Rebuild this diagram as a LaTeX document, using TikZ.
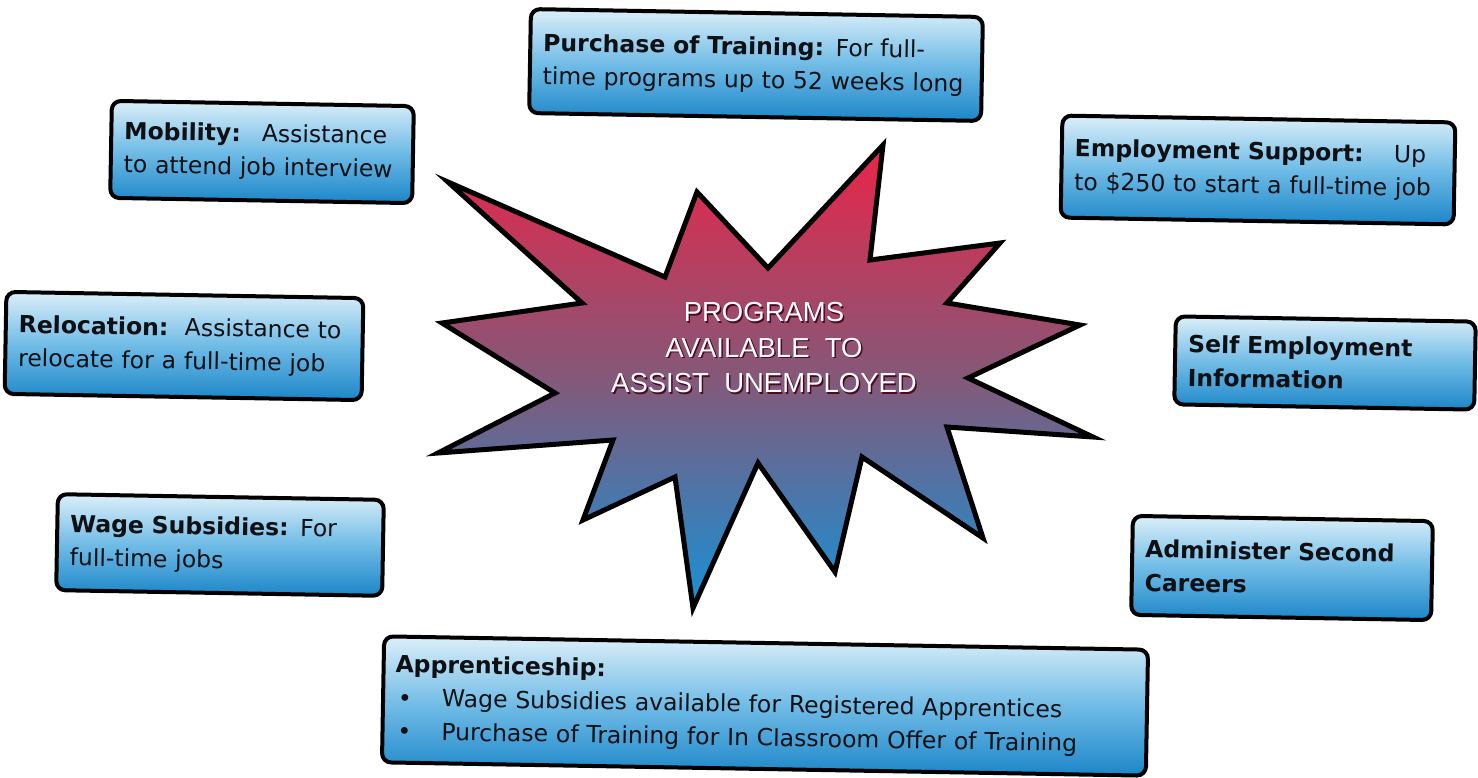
\documentclass[tikz,border=0pt]{standalone}
\usepackage{fontspec}
\setmainfont{DejaVu Sans}
\newfontfamily\starfont{Liberation Sans}
\definecolor{boxtop}{HTML}{DCEFF9}
\definecolor{boxmid}{HTML}{6FBBE6}
\definecolor{boxbot}{HTML}{1C86C8}
\definecolor{startop}{HTML}{EA2448}
\definecolor{starmid}{HTML}{855878}
\definecolor{starbot}{HTML}{1592D8}
\definecolor{textdark}{HTML}{0E1014}
\definecolor{shadowred}{HTML}{4A0C1C}
\begin{document}
\begin{tikzpicture}[x=1pt,y=-1pt,
  prog/.style={draw=black, line width=4pt, rounded corners=9pt,
    top color=boxtop, bottom color=boxbot, middle color=boxmid,
    rotate=-1, inner xsep=13pt, inner ysep=0pt, align=left,
    font=\fontsize{23.5}{33.5}\selectfont, text=textdark},
  starbody/.style={draw=black, line width=5pt, line join=miter,
    top color=startop, bottom color=starbot, middle color=starmid},
  startext/.style={align=center, font=\starfont\fontsize{27.5}{35.5}\selectfont}
]
\useasboundingbox[fill=white] (0,0) rectangle (1478,777);

% central star
\draw[starbody] (448,182) -- (665,277) -- (697,192) -- (768,268) -- (883,145)
  -- (870,260) -- (1000,243) -- (947,303) -- (1080,325) -- (968,378)
  -- (1093,437) -- (947,427) -- (983,538) -- (862,457) -- (835,572)
  -- (758,463) -- (693,608) -- (675,477) -- (583,520) -- (613,440)
  -- (438,453) -- (555,393) -- (442,323) -- (582,303) -- cycle;
\node[startext, text=shadowred] (centershadow) at (765.5,349.5)
  {PROGRAMS\\AVAILABLE\ \ TO\\ASSIST\ \ UNEMPLOYED};
\node[startext, text=white] (center) at (764,348)
  {PROGRAMS\\AVAILABLE\ \ TO\\ASSIST\ \ UNEMPLOYED};

% program boxes
\node[prog, minimum width=452pt, minimum height=104pt, text width=426pt] (training) at (756,65)
  {\textbf{Purchase of Training:} For full-\\time programs up to 52 weeks long};
\node[prog, minimum width=302pt, minimum height=97pt, text width=276pt] (mobility) at (262,152)
  {\textbf{Mobility:}\hspace{0.4em} Assistance\\to attend job interview};
\node[prog, minimum width=393pt, minimum height=102pt, text width=367pt] (employment) at (1258,170)
  {\textbf{Employment Support:}\hspace{1.3em}Up\\to \$250 to start a full-time job};
\node[prog, minimum width=357pt, minimum height=102pt, text width=331pt, inner xsep=13pt] (relocation) at (184,346)
  {\textbf{Relocation:}\hspace{0.2em} Assistance to\\relocate for a full-time job};
\node[prog, minimum width=300pt, minimum height=88pt, text width=274pt] (self) at (1325,363)
  {\textbf{Self Employment}\\\textbf{Information}};
\node[prog, minimum width=326pt, minimum height=96pt, text width=300pt] (wage) at (220,545)
  {\textbf{Wage Subsidies:} For\\full-time jobs};
\node[prog, minimum width=300pt, minimum height=99pt, text width=274pt] (second) at (1282,568)
  {\textbf{Administer Second}\\\textbf{Careers}};
\node[prog, minimum width=764pt, minimum height=126pt, text width=740pt, inner xsep=12pt] (apprentice) at (765,706)
  {\textbf{Apprenticeship:}\\
   \hspace*{3pt}\makebox[44pt][l]{\textbullet}Wage Subsidies available for Registered Apprentices\\
   \hspace*{3pt}\makebox[44pt][l]{\textbullet}Purchase of Training for In Classroom Offer of Training};
\end{tikzpicture}
\end{document}
